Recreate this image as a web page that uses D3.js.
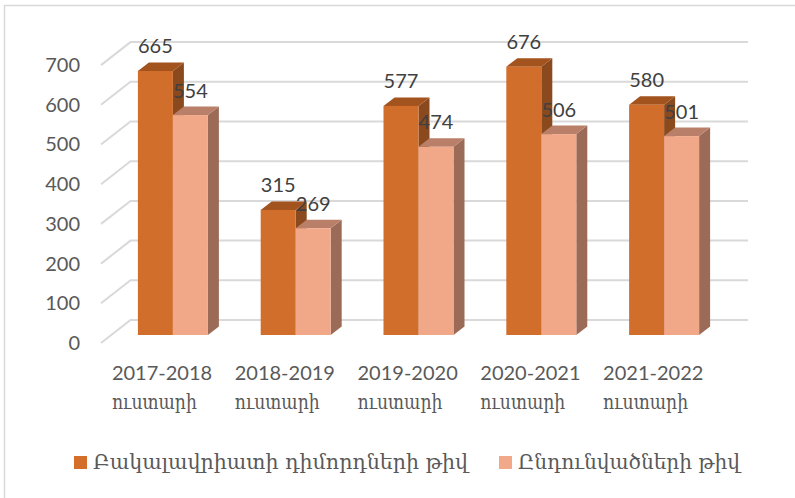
<!DOCTYPE html>
<html>
<head>
<meta charset="utf-8">
<script src="https://cdn.jsdelivr.net/npm/d3@7"></script>
<style>
  body { margin: 0; background: #fff; }
  svg { display: block; }
  .num { font-family: Lato, "Liberation Sans", sans-serif; }
  .arm { font-family: "DejaVu Serif", serif; }
</style>
</head>
<body>
<div id="chart"></div>
<script>
// data
var years = ["2017-2018", "2018-2019", "2019-2020", "2020-2021", "2021-2022"];
var yearSuffix = "ուստարի";
var applicants = [665, 315, 577, 676, 580];
var graduates = [554, 269, 474, 506, 501];
var yTicks = [0, 100, 200, 300, 400, 500, 600, 700];
var seriesNames = ["Բակալավրիատի դիմորդների թիվ", "Ընդունվածների թիվ"];

var width = 795;
var height = 498;

// 3d look
var barW = 35;
var depth = { dx: 11, dy: -8.5 };
var wallBack = { dx: 19, dy: -15 };
var wallFront = { dx: -10, dy: 8 };
var wallRight = 748;

var colors = [
  { front: "#D26E2B", top: "#A3531E", side: "#8A4A1E", legend: "#D46F2B" },
  { front: "#F1A889", top: "#BA7F68", side: "#9B6B58", legend: "#F2A98A" }
];

var svg = d3.select("#chart").append("svg")
  .attr("width", width)
  .attr("height", height);

// chart border (only top/left visible in the crop)
svg.append("path")
  .attr("d", "M4.5," + height + "V5.5H" + width)
  .attr("fill", "none")
  .attr("stroke", "#d9d9d9")
  .attr("stroke-width", 1.5);

var x = d3.scaleBand()
  .domain(years)
  .range([111.5, 725.5])
  .padding(0);

var y = d3.scaleLinear()
  .domain([0, 700])
  .range([335, 57.1]);

/* walls / gridlines */
var grid = svg.append("g").attr("class", "grid");
var x0 = x.range()[0];

grid.selectAll("path")
  .data(yTicks)
  .enter()
  .append("path")
  .attr("d", function(v) {
    var yy = y(v);
    return "M" + (x0 + wallFront.dx - 0.5) + "," + (yy + wallFront.dy) +
      "L" + (x0 + wallBack.dx) + "," + (yy + wallBack.dy) +
      "H" + wallRight;
  })
  .attr("fill", "none")
  .attr("stroke", "#d9d9d9")
  .attr("stroke-width", 2);

/* bars */
var series = [applicants, graduates];
var bars = svg.append("g").attr("class", "bars");

series.forEach(function(vals, s) {
  var g = bars.append("g").attr("class", "series-" + s);
  vals.forEach(function(v, i) {
    var bx = x(years[i]) + x.bandwidth() / 2 - barW + s * barW;
    var yt = y(v);
    var yb = y(0);
    var c = colors[s];
    g.append("path")
      .attr("d", "M" + (bx + barW) + "," + yt +
        "l" + depth.dx + "," + depth.dy +
        "V" + (yb + depth.dy) +
        "L" + (bx + barW) + "," + yb + "Z")
      .attr("fill", c.side);
    g.append("path")
      .attr("d", "M" + bx + "," + yt +
        "l" + depth.dx + "," + depth.dy +
        "h" + barW +
        "l" + (-depth.dx) + "," + (-depth.dy) + "Z")
      .attr("fill", c.top);
    g.append("rect")
      .attr("x", bx)
      .attr("y", yt)
      .attr("width", barW)
      .attr("height", yb - yt)
      .attr("fill", c.front);
  });
});

/* data labels */
series.forEach(function(vals, s) {
  svg.append("g")
    .selectAll("text")
    .data(vals)
    .enter()
    .append("text")
    .attr("class", "num")
    .attr("x", function(d, i) { return x(years[i]) + x.bandwidth() / 2 - barW / 2 + s * barW; })
    .attr("y", function(d) { return y(d) - 17.5; })
    .attr("text-anchor", "middle")
    .attr("font-size", 20)
    .attr("fill", "#404040")
    .text(function(d) { return d; });
});

/* y axis */
var yAxis = d3.axisLeft(y).tickValues(yTicks).tickSize(0).tickPadding(0);
var yg = svg.append("g")
  .attr("transform", "translate(80," + wallFront.dy + ")")
  .call(yAxis);
yg.select(".domain").remove();
yg.selectAll("text")
  .attr("class", "num")
  .attr("font-size", 20)
  .attr("fill", "#595959");

/* x axis, two line labels */
var xAxis = d3.axisBottom(x).tickSize(0).tickPadding(0);
var xg = svg.append("g")
  .call(xAxis);
xg.select(".domain").remove();
xg.selectAll(".tick text").remove();
xg.selectAll(".tick").each(function(d) {
  var tick = d3.select(this);
  tick.append("text")
    .attr("class", "num")
    .attr("x", -61)
    .attr("y", 380)
    .attr("text-anchor", "start")
    .attr("font-size", 20)
    .attr("fill", "#595959")
    .text(d);
  tick.append("text")
    .attr("class", "arm")
    .attr("x", -61)
    .attr("y", 409)
    .attr("text-anchor", "start")
    .attr("font-size", 21)
    .attr("textLength", 85)
    .attr("lengthAdjust", "spacingAndGlyphs")
    .attr("fill", "#595959")
    .text(yearSuffix);
});

// fit a text to a target width by adjusting its font size
function fitWidth(sel, target) {
  sel.each(function() {
    var n = this;
    var fs = parseFloat(d3.select(n).attr("font-size"));
    var w = n.getComputedTextLength();
    if (w > 0) d3.select(n).attr("font-size", (fs * target / w).toFixed(2));
  });
}

/* legend */
var legendX = [74, 499];
var legendW = [375, 222];
var legend = svg.append("g").attr("class", "legend");
seriesNames.forEach(function(name, s) {
  legend.append("rect")
    .attr("x", legendX[s])
    .attr("y", 456)
    .attr("width", 13)
    .attr("height", 13)
    .attr("fill", colors[s].legend);
  var t = legend.append("text")
    .attr("class", "arm")
    .attr("x", legendX[s] + 19)
    .attr("y", 469)
    .attr("font-size", 19)
    .attr("fill", "#595959")
    .text(name);
  fitWidth(t, legendW[s]);
});
</script>
</body>
</html>
